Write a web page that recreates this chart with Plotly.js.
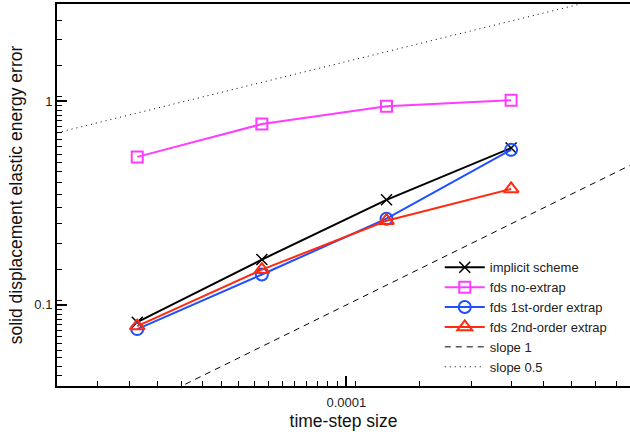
<!DOCTYPE html>
<html>
<head>
<meta charset="utf-8">
<script src="https://cdn.plot.ly/plotly-3.0.1.min.js"></script>
<style>html,body{margin:0;padding:0;background:#fff;}#chart{width:630px;height:435px;}</style>
</head>
<body>
<div id="chart"></div>
<script>
// time-step sizes
const dt = [3.125e-5, 6.25e-5, 1.25e-4, 2.5e-4];
// error series
const implicitScheme = [0.0823, 0.167, 0.328, 0.589];
const fdsNoExtrap = [0.533, 0.772, 0.945, 1.01];
const fds1stOrder = [0.0761, 0.141, 0.265, 0.577];
const fds2ndOrder = [0.0787, 0.149, 0.259, 0.371];
// reference slope lines
const slopeX = [2e-5, 5e-4];
const slope1Y = [0.02, 0.5];
const slopeHalfY = [0.7, 3.5];
// labels
const seriesNames = ["implicit scheme", "fds no-extrap", "fds 1st-order extrap", "fds 2nd-order extrap", "slope 1", "slope 0.5"];
const yTickVals = [0.1, 1];
const yTickText = ["0.1", "1"];
const xTickVals = [1e-4];
const xTickText = ["0.0001"];

function minorTicks(lo, hi) {
  const out = [];
  for (let d = -6; d <= 1; d++) {
    const base = Math.pow(10, d);
    for (let k = 1; k < 20; k++) {
      const v = base * (1 + k * 0.5);
      if (v > lo && v < hi && Math.abs(Math.log10(v) - Math.round(Math.log10(v))) > 1e-9) out.push(v);
    }
  }
  return out;
}

const font = "Liberation Sans, Arial, Helvetica, sans-serif";
const traces = [
  {x: dt, y: implicitScheme, name: seriesNames[0], mode: "lines+markers",
   line: {color: "#000000", width: 2}, marker: {symbol: "x-thin-open", size: 11, line: {color: "#000000", width: 1.5}}},
  {x: dt, y: fdsNoExtrap, name: seriesNames[1], mode: "lines+markers",
   line: {color: "#ff3cff", width: 2}, marker: {symbol: "square-open", size: 11, color: "#ff3cff", line: {width: 2}}},
  {x: dt, y: fds1stOrder, name: seriesNames[2], mode: "lines+markers",
   line: {color: "#1e50ff", width: 2}, marker: {symbol: "circle-open", size: 12, color: "#1e50ff", line: {width: 2}}},
  {x: dt, y: fds2ndOrder, name: seriesNames[3], mode: "lines+markers",
   line: {color: "#ff2a10", width: 2}, marker: {symbol: "triangle-up-open", size: 13, color: "#ff2a10", line: {width: 2}}},
  {x: slopeX, y: slope1Y, name: seriesNames[4], mode: "lines",
   line: {color: "#000000", width: 1, dash: "6px,5px"}},
  {x: slopeX, y: slopeHalfY, name: seriesNames[5], mode: "lines",
   line: {color: "#000000", width: 1, dash: "1px,4px"}}
];

const layout = {
  width: 630, height: 435,
  margin: {l: 57, r: 0, t: 4, b: 49},
  paper_bgcolor: "#ffffff", plot_bgcolor: "#ffffff",
  font: {family: font, size: 13, color: "#222222"},
  showlegend: true,
  legend: {x: 0.668, y: 0.35, xanchor: "left", yanchor: "top", bgcolor: "rgba(0,0,0,0)",
           font: {family: font, size: 13, color: "#222222"}, tracegroupgap: 0, itemwidth: 40},
  xaxis: {
    type: "log", range: [Math.log10(2e-5), Math.log10(2e-5) + 573 / 414],
    showgrid: false, zeroline: false, showline: true, linecolor: "#000", linewidth: 2, mirror: true,
    ticks: "inside", ticklen: 10, tickwidth: 2, tickcolor: "#000",
    tickmode: "array", tickvals: xTickVals, ticktext: xTickText,
    tickfont: {size: 13, color: "#222"}, ticklabelstandoff: 3,
    minor: {tickmode: "array", tickvals: minorTicks(2e-5, 5e-4), ticks: "inside", ticklen: 5, tickwidth: 1, tickcolor: "#000", showgrid: false},
    title: {text: "time-step size", font: {size: 17.5, color: "#111"}, standoff: 6},
    automargin: false
  },
  yaxis: {
    type: "log", range: [Math.log10(0.04), Math.log10(3)],
    showgrid: false, zeroline: false, showline: true, linecolor: "#000", linewidth: 2, mirror: false,
    ticks: "inside", ticklen: 10, tickwidth: 2, tickcolor: "#000",
    tickmode: "array", tickvals: yTickVals, ticktext: yTickText,
    tickfont: {size: 13, color: "#222"},
    minor: {tickmode: "array", tickvals: minorTicks(0.04, 3), ticks: "inside", ticklen: 5, tickwidth: 1, tickcolor: "#000", showgrid: false},
    title: {text: "solid displacement elastic energy error", font: {size: 17.5, color: "#111"}, standoff: 7},
    automargin: false
  }
};

Plotly.newPlot("chart", traces, layout, {staticPlot: true, displayModeBar: false});
</script>
</body>
</html>
